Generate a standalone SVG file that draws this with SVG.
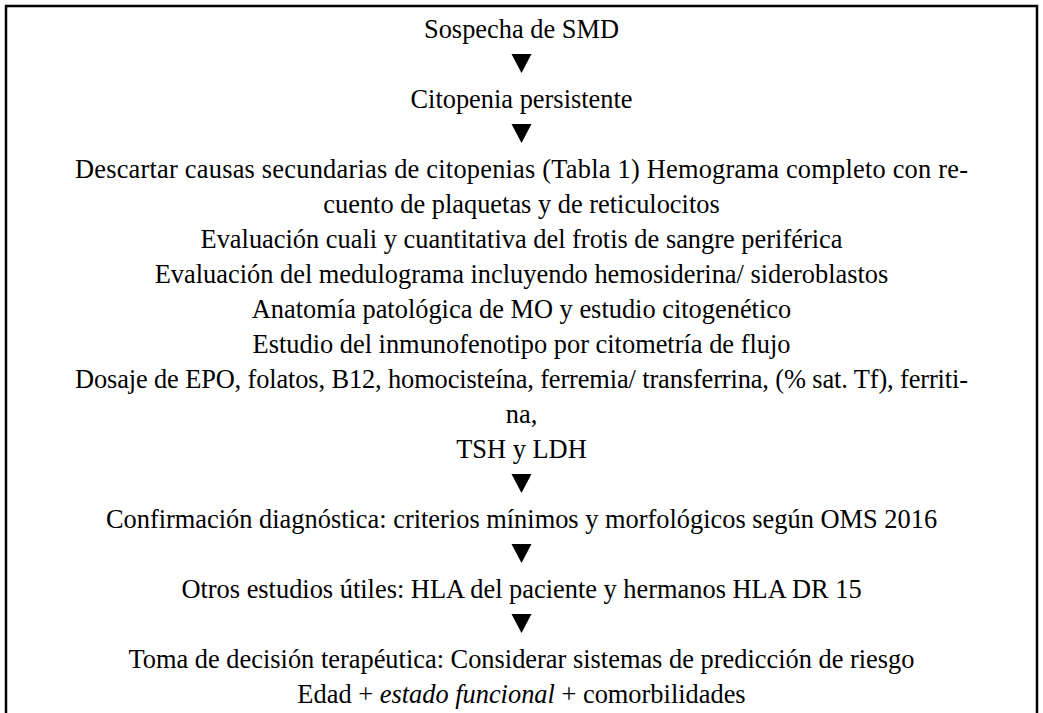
<svg xmlns="http://www.w3.org/2000/svg" width="1043" height="713" viewBox="0 0 1043 713">
<style>
text{font-family:"Liberation Serif","Times New Roman",serif;font-size:26.4px;fill:#000;text-anchor:middle}
.frame{fill:none;stroke:#000;stroke-width:2.5}
.arrow{fill:#000}
</style>
<defs>
<polygon id="tri" points="-10,0 10,0 0,19"/>
</defs>
<rect width="1043" height="713" fill="#fff"/>
<path class="frame" d="M6,713 V6 H1037 V713"/>
<g id="n1"><text x="521.5" y="38">Sospecha de SMD</text></g>
<g id="n2"><text x="521.5" y="108">Citopenia persistente</text></g>
<g id="n3">
<text x="521.5" y="178" textLength="893" lengthAdjust="spacing">Descartar causas secundarias de citopenias (Tabla 1) Hemograma completo con re-</text>
<text x="521.5" y="213">cuento de plaquetas y de reticulocitos</text>
<text x="521.5" y="248">Evaluación cuali y cuantitativa del frotis de sangre periférica</text>
<text x="521.5" y="283">Evaluación del medulograma incluyendo hemosiderina/ sideroblastos</text>
<text x="521.5" y="318">Anatomía patológica de MO y estudio citogenético</text>
<text x="521.5" y="353">Estudio del inmunofenotipo por citometría de flujo</text>
<text x="521.5" y="388" textLength="893" lengthAdjust="spacing">Dosaje de EPO, folatos, B12, homocisteína, ferremia/ transferrina, (% sat. Tf), ferriti-</text>
<text x="521.5" y="423">na,</text>
<text x="521.5" y="458">TSH y LDH</text>
</g>
<g id="n4"><text x="521.5" y="528">Confirmación diagnóstica: criterios mínimos y morfológicos según OMS 2016</text></g>
<g id="n5"><text x="521.5" y="598">Otros estudios útiles: HLA del paciente y hermanos HLA DR 15</text></g>
<g id="n6">
<text x="521.5" y="668">Toma de decisión terapéutica: Considerar sistemas de predicción de riesgo</text>
<text x="521.5" y="703">Edad + <tspan font-style="italic">estado funcional</tspan> + comorbilidades</text>
</g>
<g id="connectors" class="arrow">
<use href="#tri" x="521.5" y="54"/>
<use href="#tri" x="521.5" y="124"/>
<use href="#tri" x="521.5" y="474"/>
<use href="#tri" x="521.5" y="544"/>
<use href="#tri" x="521.5" y="614"/>
</g>
</svg>
